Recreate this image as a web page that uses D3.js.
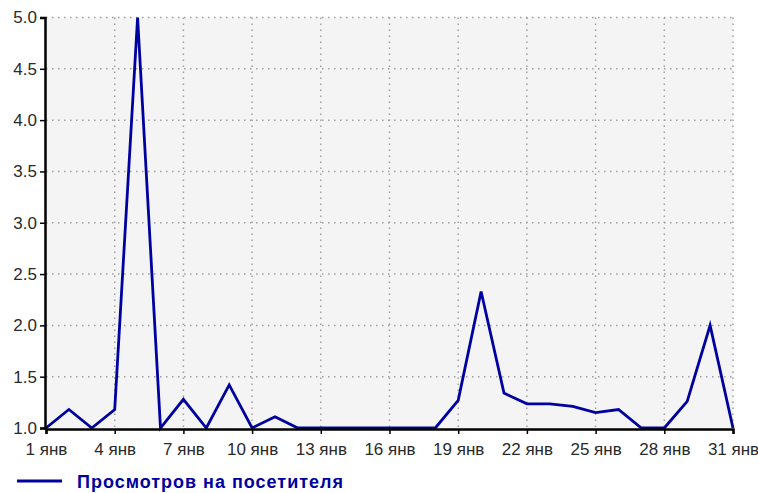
<!DOCTYPE html>
<html>
<head>
<meta charset="utf-8">
<style type="text/css">
    body { margin: 0; background: #fff; }
    #chart { display: block; }
    .tick text { font-family: "Liberation Sans", Arial, sans-serif; font-size: 17px; fill: #2a2a2a; }
    .grid line { stroke: #a0a0a0; stroke-width: 1.5px; stroke-dasharray: 1.5,4.5; }
    .legend text { font-family: "Liberation Sans", Arial, sans-serif; font-size: 18px; font-weight: bold; fill: #0000a0; }
</style>
<script src="https://d3js.org/d3.v7.min.js"></script>
</head>
<body>
<svg id="chart" width="758" height="493"></svg>
<script type="text/javascript">
// days of January and views per visitor
const days = d3.range(1, 32);
const views = [1.0, 1.18, 1.0, 1.18, 5.0, 1.0, 1.28, 1.0, 1.42, 1.0,
               1.11, 1.0, 1.0, 1.0, 1.0, 1.0, 1.0, 1.0, 1.27, 2.33,
               1.34, 1.235, 1.235, 1.21, 1.15, 1.18, 1.0, 1.0, 1.26, 2.0, 1.0];
const xTicks = [1, 4, 7, 10, 13, 16, 19, 22, 25, 28, 31];
const yTicks = [1.0, 1.5, 2.0, 2.5, 3.0, 3.5, 4.0, 4.5, 5.0];
const seriesName = 'Просмотров на посетителя';

const svg = d3.select('#chart');
const plotL = 46, plotR = 733, plotT = 17.5, plotB = 428;

const x = d3.scaleLinear().domain([1, 31]).range([plotL, plotR]);
const y = d3.scaleLinear().domain([1, 5]).range([plotB, plotT]);

// plot background
svg.append('rect')
  .attr('x', plotL).attr('y', plotT)
  .attr('width', plotR - plotL).attr('height', plotB - plotT)
  .attr('fill', '#f4f4f4');

// dotted grid
const grid = svg.append('g').attr('class', 'grid');
grid.selectAll('line.h')
  .data(yTicks.slice(1))
  .enter().append('line')
  .attr('x1', plotL).attr('x2', plotR)
  .attr('y1', d => y(d)).attr('y2', d => y(d));
grid.selectAll('line.v')
  .data(xTicks.slice(1))
  .enter().append('line')
  .attr('x1', d => x(d)).attr('x2', d => x(d))
  .attr('y1', plotT).attr('y2', plotB);

// data line
svg.append('path')
  .datum(days)
  .attr('fill', 'none')
  .attr('stroke', '#0000a0')
  .attr('stroke-width', 2.8)
  .attr('stroke-linejoin', 'miter')
  .attr('d', d3.line().x(d => x(d)).y((d, i) => y(views[i])));

// axes
const yAxis = svg.append('g')
  .attr('transform', 'translate(' + (plotL - 1) + ',0)')
  .call(d3.axisLeft(y).tickValues(yTicks).tickFormat(d3.format('.1f')).tickSizeOuter(0).tickSize(5).tickPadding(3));
const xAxis = svg.append('g')
  .attr('transform', 'translate(0,' + (plotB + 1) + ')')
  .call(d3.axisBottom(x).tickValues(xTicks).tickFormat(d => d + ' янв').tickSizeOuter(0).tickSize(5).tickPadding(9));
[yAxis, xAxis].forEach(a => {
  a.select('.domain').attr('stroke', '#000').attr('stroke-width', 2.5);
  a.selectAll('.tick line').attr('stroke', '#000').attr('stroke-width', 1.5);
});
xAxis.selectAll('.tick text').attr('dy', '0.71em');

// legend
const legend = svg.append('g').attr('class', 'legend');
legend.append('line')
  .attr('x1', 17).attr('x2', 62).attr('y1', 481).attr('y2', 481)
  .attr('stroke', '#0000a0').attr('stroke-width', 2.8);
legend.append('text')
  .attr('x', 77).attr('y', 488)
  .attr('textLength', 266).attr('lengthAdjust', 'spacing')
  .text(seriesName);
</script>
</body>
</html>
